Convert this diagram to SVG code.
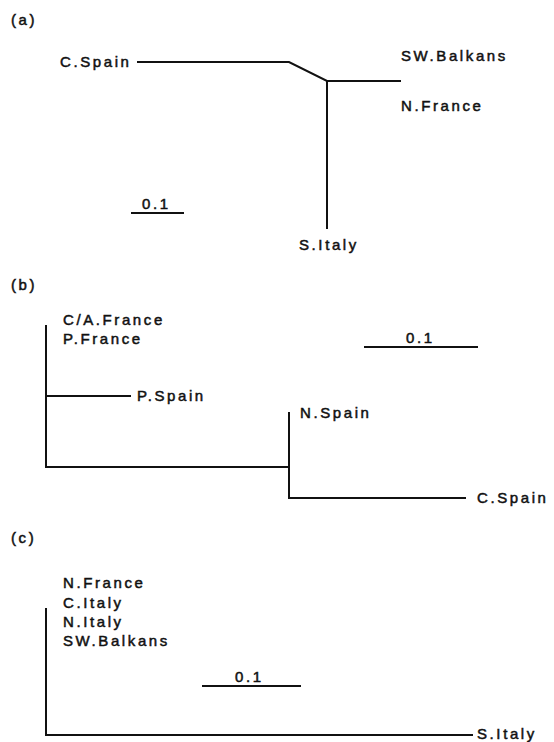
<svg xmlns="http://www.w3.org/2000/svg" width="554" height="742" viewBox="0 0 554 742">
<style>
text{font-family:"Liberation Sans",Arial,sans-serif;font-size:15px;letter-spacing:2.6px;fill:#111;stroke:#111;stroke-width:0.5}
.br{stroke:#111;stroke-width:2;fill:none;stroke-linecap:square}
.sc{stroke:#111;stroke-width:2.2;fill:none}
</style>
<rect width="554" height="742" fill="#fff"/>
<g id="panel-labels">
<text x="11" y="25">(a)</text>
<text x="11" y="290">(b)</text>
<text x="11" y="543">(c)</text>
</g>
<g id="connectors">
<path class="br" d="M138 62H289L327 81H400M327 81V228"/>
<path class="br" d="M46 326V467H289M46 396H130M289 413V498H465"/>
<path class="br" d="M46 609V735H472"/>
</g>
<g id="scales">
<line class="sc" x1="131" y1="213" x2="184" y2="213"/><text x="142" y="209">0.1</text>
<line class="sc" x1="364" y1="347" x2="478" y2="347"/><text x="406" y="343">0.1</text>
<line class="sc" x1="202" y1="686" x2="301" y2="686"/><text x="235" y="682">0.1</text>
</g>
<g id="a-cspain"><text x="60" y="67">C.Spain</text></g>
<g id="a-swbalkans"><text x="401" y="61">SW.Balkans</text></g>
<g id="a-nfrance"><text x="401" y="111">N.France</text></g>
<g id="a-sitaly"><text x="299" y="250">S.Italy</text></g>
<g id="b-caf"><text x="63" y="325">C/A.France</text><text x="63" y="344">P.France</text></g>
<g id="b-pspain"><text x="137" y="401">P.Spain</text></g>
<g id="b-nspain"><text x="300" y="418">N.Spain</text></g>
<g id="b-cspain"><text x="477" y="503">C.Spain</text></g>
<g id="c-group"><text x="63" y="588">N.France</text><text x="63" y="608">C.Italy</text><text x="63" y="627">N.Italy</text><text x="63" y="646">SW.Balkans</text></g>
<g id="c-sitaly"><text x="477" y="739">S.Italy</text></g>
</svg>
